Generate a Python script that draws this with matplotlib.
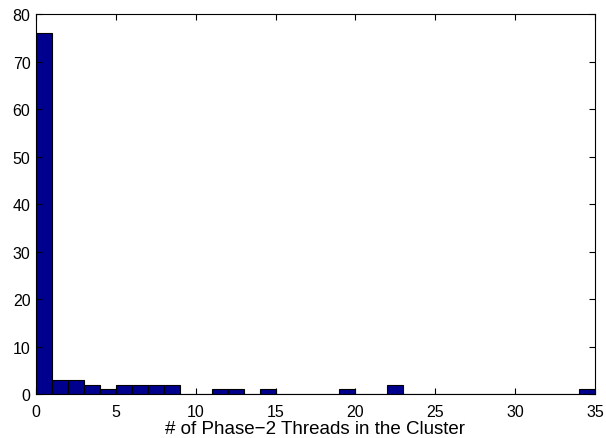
import numpy as np
import matplotlib.pyplot as plt

plt.rcParams['font.family'] = ['Liberation Sans', 'DejaVu Sans']

# histogram counts, one bin per thread count 0..34
bin_left = np.arange(0, 35)
counts = [76, 3, 3, 2, 1, 2, 2, 2, 2, 0,
          0, 1, 1, 0, 1, 0, 0, 0, 0, 1,
          0, 0, 2, 0, 0, 0, 0, 0, 0, 0,
          0, 0, 0, 0, 1]
xticks = [0, 5, 10, 15, 20, 25, 30, 35]
yticks = [0, 10, 20, 30, 40, 50, 60, 70, 80]

fig = plt.figure(figsize=(6.06, 4.39), dpi=100)
ax = fig.add_axes([0.0594, 0.1002, 0.9224, 0.8656])

ax.bar(bin_left, counts, width=1.0, align='edge',
       color=(0, 0, 0.5625), edgecolor='black', linewidth=0.8)

ax.set_xlim(0, 35)
ax.set_ylim(0, 80)
ax.set_xticks(xticks)
ax.set_yticks(yticks)
ax.tick_params(direction='in', top=True, right=True, labelsize=11.5, length=4)
ax.tick_params(axis='x', pad=7)
ax.tick_params(axis='y', pad=4)
ax.set_xlabel('# of Phase\u22122 Threads in the Cluster', fontsize=13.5, labelpad=1)

fig.savefig('out.png', dpi=100)
